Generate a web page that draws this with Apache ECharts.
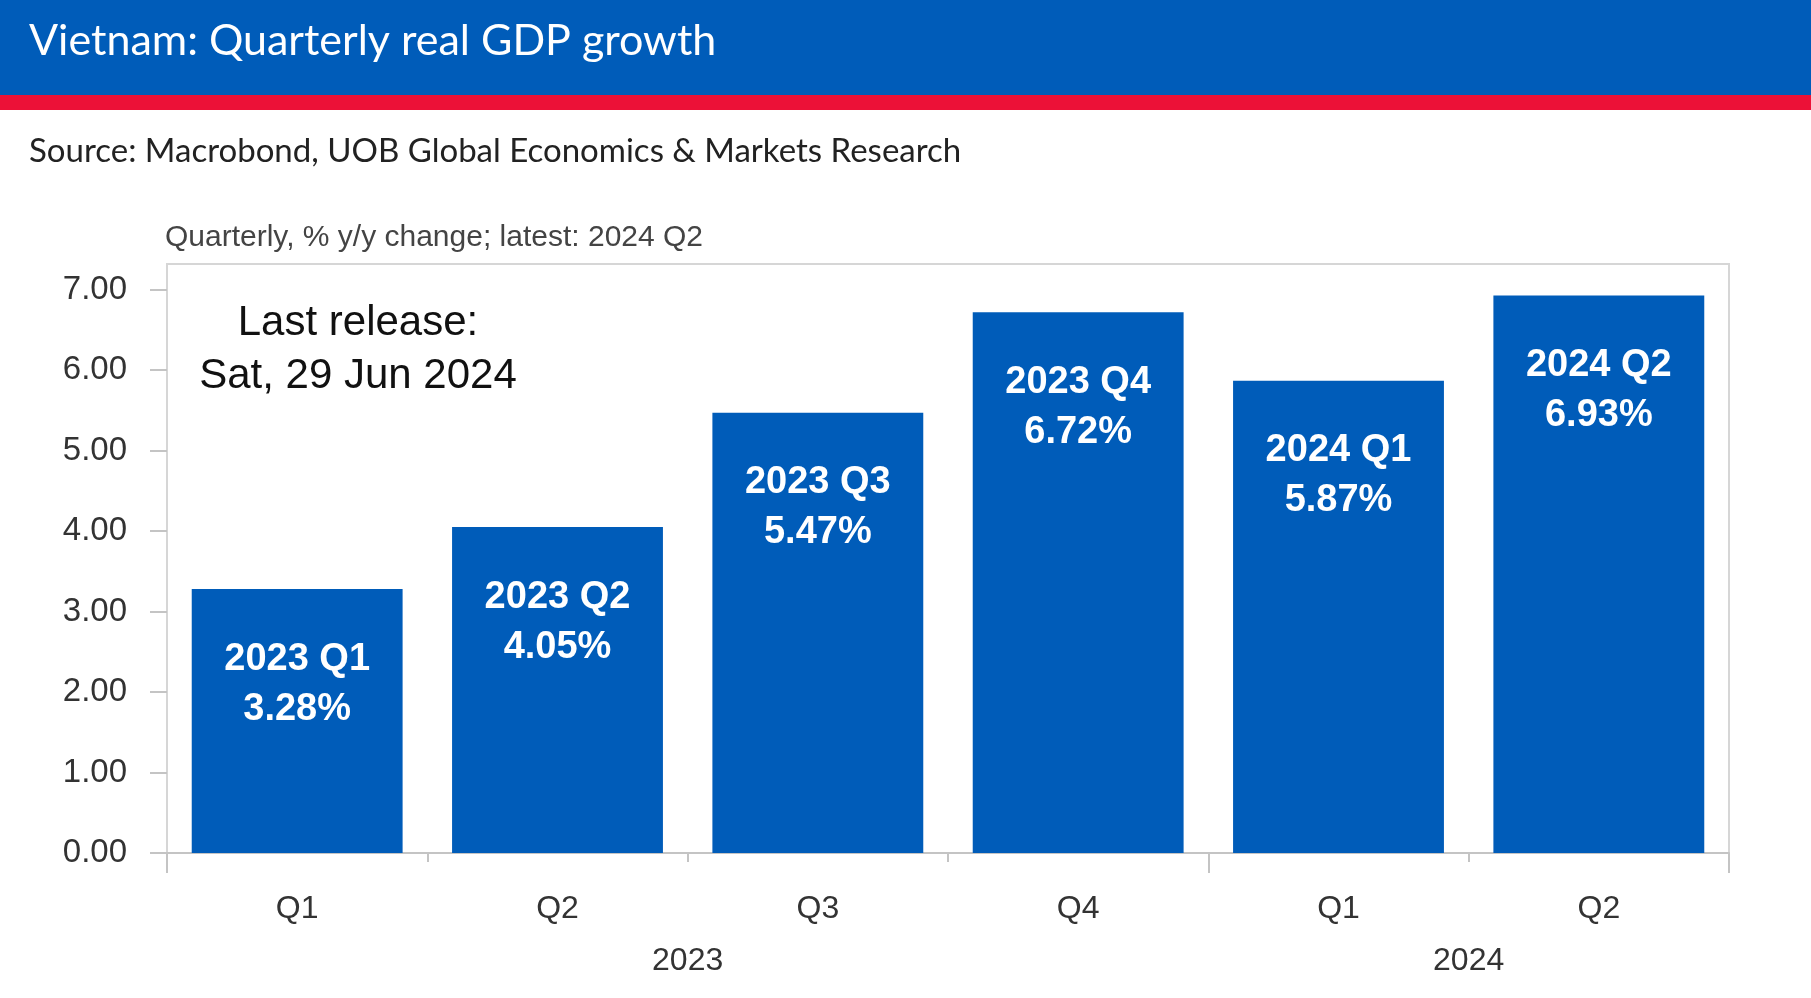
<!DOCTYPE html>
<html>
<head>
<meta charset="utf-8">
<script src="https://cdn.jsdelivr.net/npm/echarts@6/dist/echarts.min.js"></script>
<style>
html,body{margin:0;padding:0;background:#fff;}
#chart{width:1811px;height:998px;}
</style>
</head>
<body>
<div id="chart"></div>
<script>
// ---- data ----
const quarterLabels = ['Q1', 'Q2', 'Q3', 'Q4', 'Q1', 'Q2'];
const periodNames = ['2023 Q1', '2023 Q2', '2023 Q3', '2023 Q4', '2024 Q1', '2024 Q2'];
const gdpGrowth = [3.28, 4.05, 5.47, 6.72, 5.87, 6.93];
const yearLabels = ['2023', '2024'];
const quartersPerYear = [4, 2];          // quarters shown for each year
const yTickValues = [0, 1, 2, 3, 4, 5, 6, 7];

const titleText = 'Vietnam: Quarterly real GDP growth';
const sourceText = 'Source: Macrobond, UOB Global Economics & Markets Research';
const subtitleText = 'Quarterly, % y/y change; latest: 2024 Q2';
const releaseText = 'Last release:\nSat, 29 Jun 2024';

// year-axis positions measured in quarter units (derived from the counts above)
const yearBounds = [0];
quartersPerYear.forEach(n => yearBounds.push(yearBounds[yearBounds.length - 1] + n));
const yearCenters = quartersPerYear.map((n, i) => yearBounds[i] + n / 2);

const chart = echarts.init(document.getElementById('chart'), null, {renderer: 'canvas'});
const axisFont = 'Liberation Sans, Arial, sans-serif';

chart.setOption({
  backgroundColor: '#ffffff',
  animation: false,
  graphic: [
    {type: 'rect', z: 0, shape: {x: 0, y: 0, width: 1811, height: 95}, style: {fill: '#005cb9'}},
    {type: 'rect', z: 0, shape: {x: 0, y: 95, width: 1811, height: 15}, style: {fill: '#ec1137'}},
    {type: 'text', z: 20, x: 358, y: 350,
     style: {text: releaseText, fill: '#111', font: '42px Liberation Sans, Arial, sans-serif',
             textAlign: 'center', textVerticalAlign: 'middle', lineHeight: 53}}
  ],
  title: [
    {text: titleText, left: 29, top: 20, z: 10, padding: 0,
     textStyle: {color: '#ffffff', fontSize: 43, fontWeight: 'normal', fontFamily: 'Lato, sans-serif'}},
    {text: sourceText, left: 29, top: 135, z: 10, padding: 0,
     textStyle: {color: '#222222', fontSize: 33, fontWeight: 'normal', fontFamily: 'Lato, sans-serif'}},
    {text: subtitleText, left: 165, top: 223, z: 10, padding: 0,
     textStyle: {color: '#444444', fontSize: 30, fontWeight: 'normal', fontFamily: axisFont}}
  ],
  grid: {
    left: 167, right: 82, top: 264, bottom: 145,
    show: true, borderColor: '#d6d6d6', borderWidth: 2, backgroundColor: 'transparent'
  },
  xAxis: [
    {
      type: 'category', data: quarterLabels, position: 'bottom', boundaryGap: true,
      axisLine: {show: true, lineStyle: {color: '#c4c4c4', width: 2}},
      axisTick: {show: true, alignWithLabel: false, length: 9, lineStyle: {color: '#c4c4c4', width: 2}},
      axisLabel: {color: '#333333', fontSize: 32, fontFamily: axisFont, margin: 40}
    },
    {
      type: 'value', position: 'bottom', offset: 0,
      min: 0, max: yearBounds[yearBounds.length - 1],
      splitLine: {show: false},
      axisLine: {show: false},
      axisTick: {show: true, length: 20, customValues: yearBounds, lineStyle: {color: '#c4c4c4', width: 2}},
      axisLabel: {
        customValues: yearCenters, color: '#333333', fontSize: 32, fontFamily: axisFont, margin: 92,
        formatter: v => yearLabels[yearCenters.indexOf(v)]
      }
    }
  ],
  yAxis: {
    type: 'value', min: 0, max: 7.32,
    splitLine: {show: false},
    axisLine: {show: true, lineStyle: {color: '#d6d6d6', width: 2}},
    axisTick: {show: true, length: 17, customValues: yTickValues, lineStyle: {color: '#c4c4c4', width: 2}},
    axisLabel: {
      customValues: yTickValues, color: '#333333', fontSize: 33, fontFamily: axisFont, margin: 40,
      formatter: v => v.toFixed(2)
    }
  },
  series: [{
    type: 'bar', xAxisIndex: 0, data: gdpGrowth,
    barCategoryGap: '19%',
    itemStyle: {color: '#005cb9'},
    label: {
      show: true, position: 'insideTop', distance: 45,
      color: '#ffffff', fontSize: 38, fontWeight: 'bold', fontFamily: axisFont, lineHeight: 50,
      formatter: p => periodNames[p.dataIndex] + '\n' + p.value.toFixed(2) + '%'
    }
  }]
});
</script>
</body>
</html>
